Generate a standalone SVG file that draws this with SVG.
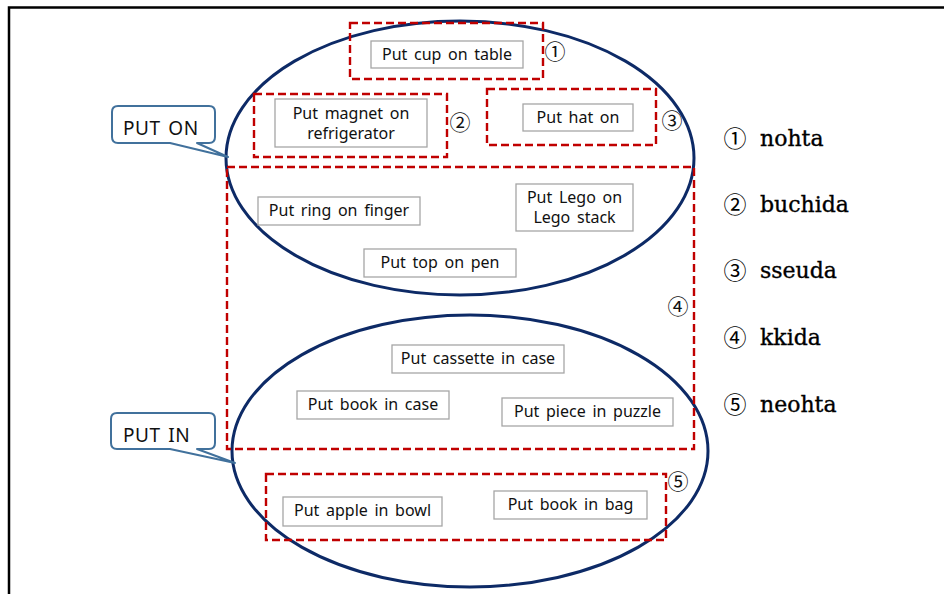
<svg xmlns="http://www.w3.org/2000/svg" width="944" height="594" viewBox="0 0 944 594">
<style>
.frame{fill:none;stroke:#000;stroke-width:2.5}
.ell{fill:none;stroke:#0d2a66;stroke-width:3}
.grp{fill:none;stroke:#c00000;stroke-width:2.4;stroke-dasharray:8,4}
.box{fill:#fff;stroke:#a6a6a6;stroke-width:1.3}
.bt{font-family:"Noto Sans","Liberation Sans",sans-serif;font-size:16px;word-spacing:2.5px;fill:#111;text-anchor:middle}
.num{font-family:"Noto Sans CJK KR","DejaVu Sans",sans-serif;font-size:21px;fill:#111;text-anchor:middle}
.call{fill:#fff;stroke:#41719c;stroke-width:2;stroke-linejoin:round}
.ct{font-family:"Noto Sans","Liberation Sans",sans-serif;font-size:19px;letter-spacing:0.6px;word-spacing:2px;fill:#111}
.lg{font-family:"DejaVu Serif","Liberation Serif",serif;font-size:22px;fill:#000;stroke:#000;stroke-width:0.35}
.ln{font-family:"Noto Sans CJK KR","DejaVu Sans",sans-serif;font-size:23px;fill:#000;text-anchor:middle}
</style>
<path class="frame" d="M9,594 V7.5 H944"/>
<g id="connectors">
<ellipse id="put-on-set" class="ell" cx="460" cy="158" rx="234" ry="137"/>
<ellipse id="put-in-set" class="ell" cx="470" cy="451" rx="238" ry="136"/>
</g>
<g id="group1"><rect class="grp" x="350" y="23" width="193" height="56"/><text class="num" x="555" y="59">①</text></g>
<g id="group2"><rect class="grp" x="254" y="94" width="193" height="63"/><text class="num" x="460" y="130">②</text></g>
<g id="group3"><rect class="grp" x="487" y="89" width="169" height="56"/><text class="num" x="672" y="128">③</text></g>
<g id="group4"><rect class="grp" x="227" y="167" width="467" height="282"/><text class="num" x="678" y="314">④</text></g>
<g id="group5"><rect class="grp" x="266" y="474" width="400" height="66"/><text class="num" x="678" y="489">⑤</text></g>

<g id="cup"><rect class="box" x="371" y="41" width="152" height="27"/><text class="bt" x="447" y="60">Put cup on table</text></g>
<g id="magnet"><rect class="box" x="275" y="99" width="152" height="48"/><text class="bt" x="351" y="119">Put magnet on</text><text class="bt" x="351" y="139">refrigerator</text></g>
<g id="hat"><rect class="box" x="523" y="104" width="110" height="27"/><text class="bt" x="578" y="123">Put hat on</text></g>
<g id="ring"><rect class="box" x="258" y="197" width="162" height="28"/><text class="bt" x="339" y="216">Put ring on finger</text></g>
<g id="lego"><rect class="box" x="516" y="184" width="117" height="47"/><text class="bt" x="574.5" y="203">Put Lego on</text><text class="bt" x="574.5" y="223">Lego stack</text></g>
<g id="pen"><rect class="box" x="364" y="249" width="152" height="28"/><text class="bt" x="440" y="268">Put top on pen</text></g>
<g id="cassette"><rect class="box" x="392" y="345" width="172" height="28"/><text class="bt" x="478" y="364">Put cassette in case</text></g>
<g id="bookcase"><rect class="box" x="297" y="391" width="152" height="28"/><text class="bt" x="373" y="410">Put book in case</text></g>
<g id="puzzle"><rect class="box" x="502" y="398" width="171" height="28"/><text class="bt" x="587.5" y="417">Put piece in puzzle</text></g>
<g id="apple"><rect class="box" x="283" y="497" width="159" height="29"/><text class="bt" x="362.5" y="516">Put apple in bowl</text></g>
<g id="bag"><rect class="box" x="494" y="491" width="153" height="28"/><text class="bt" x="570.5" y="510">Put book in bag</text></g>

<g id="put-on"><path class="call" d="M118,106 H209 Q215,106 215,112 V137 Q215,143 209,143 H197 L228,157 L170,143 H118 Q112,143 112,137 V112 Q112,106 118,106 Z"/><text class="ct" x="123" y="135">PUT ON</text></g>
<g id="put-in"><path class="call" d="M117,413 H209 Q215,413 215,419 V443 Q215,449 209,449 H197 L235,463 L170,449 H117 Q111,449 111,443 V419 Q111,413 117,413 Z"/><text class="ct" x="123" y="442">PUT IN</text></g>

<g id="legend">
<text class="ln" x="735" y="147">①</text><text class="lg" x="760" y="146">nohta</text>
<text class="ln" x="735" y="213">②</text><text class="lg" x="760" y="212">buchida</text>
<text class="ln" x="735" y="279">③</text><text class="lg" x="760" y="278">sseuda</text>
<text class="ln" x="735" y="346">④</text><text class="lg" x="760" y="345">kkida</text>
<text class="ln" x="735" y="413">⑤</text><text class="lg" x="760" y="412">neohta</text>
</g>
</svg>
